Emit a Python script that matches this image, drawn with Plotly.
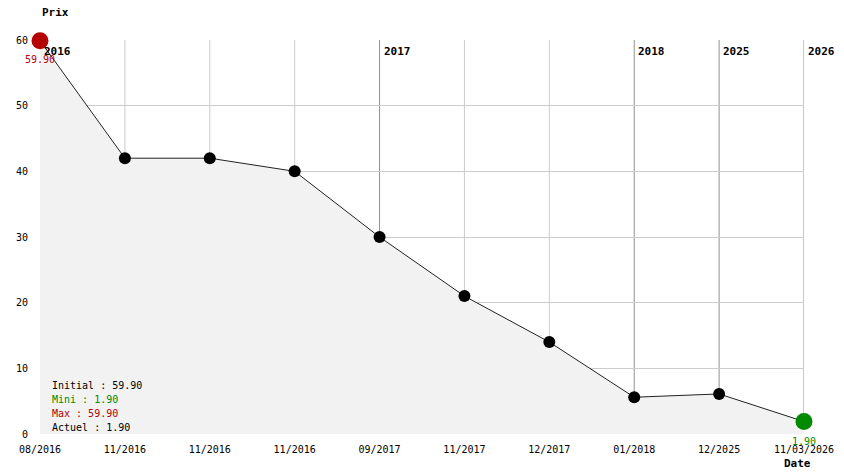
import plotly.graph_objects as go

# price history
dates = ["08/2016", "11/2016", "11/2016", "11/2016", "09/2017",
         "11/2017", "12/2017", "01/2018", "12/2025", "11/03/2026"]
prices = [59.9, 42, 42, 40, 30, 21, 14, 5.6, 6.1, 1.9]
years = ["2016", "2017", "2018", "2025", "2026"]
year_idx = [0, 4, 7, 8, 9]
y_ticks = [0, 10, 20, 30, 40, 50, 60]

FONT = "DejaVu Sans Mono"
RED = "#b40000"
GREEN = "#008a00"

xs = list(range(len(prices)))

fig = go.Figure()

fig.add_trace(go.Scatter(
    x=xs, y=prices, mode="lines+markers", fill="tozeroy",
    fillcolor="#f2f2f2", line=dict(color="#222222", width=1),
    marker=dict(color="black", size=12), hoverinfo="skip", cliponaxis=False))

# first / last points highlighted
fig.add_trace(go.Scatter(
    x=[xs[0]], y=[prices[0]], mode="markers", cliponaxis=False,
    marker=dict(color=RED, size=17), hoverinfo="skip"))
fig.add_trace(go.Scatter(
    x=[xs[-1]], y=[prices[-1]], mode="markers", cliponaxis=False,
    marker=dict(color=GREEN, size=17), hoverinfo="skip"))

# vertical lines: light grid, darker where the year changes
for i in xs[1:]:
    col = "#909090" if i in year_idx else "#cccccc"
    fig.add_shape(type="line", x0=i, x1=i, y0=0, y1=60, layer="below",
                  line=dict(color=col, width=1))

for i, yr in zip(year_idx, years):
    fig.add_annotation(x=i, y=60, text="<b>%s</b>" % yr, showarrow=False,
                       xanchor="left", yanchor="top", xshift=2, yshift=-3,
                       font=dict(family=FONT, size=11, color="black"))

fig.add_annotation(x=xs[0], y=prices[0], text="%.2f" % prices[0], showarrow=False,
                   yanchor="top", yshift=-11, font=dict(family=FONT, size=10, color=RED))
fig.add_annotation(x=xs[-1], y=prices[-1], text="%.2f" % prices[-1], showarrow=False,
                   yanchor="top", yshift=-12, font=dict(family=FONT, size=10, color=GREEN))

# summary box
summary = [("Initial : %.2f" % prices[0], "black"),
           ("Mini : %.2f" % min(prices), GREEN),
           ("Max : %.2f" % max(prices), RED),
           ("Actuel : %.2f" % prices[-1], "black")]
for k, (txt, col) in enumerate(summary):
    fig.add_annotation(xref="paper", yref="paper", x=0.0128, y=0.124 - k * 0.0355,
                       text=txt, showarrow=False, xanchor="left", yanchor="middle",
                       font=dict(family=FONT, size=10, color=col))

fig.add_annotation(xref="paper", yref="paper", x=0.991, y=-0.074, text="<b>Date</b>",
                   showarrow=False, xanchor="center", yanchor="middle",
                   font=dict(family=FONT, size=11, color="black"))
fig.add_annotation(xref="paper", yref="paper", x=0.0, y=1.071, text="<b>Prix</b>",
                   showarrow=False, xanchor="left", yanchor="middle",
                   font=dict(family=FONT, size=11, color="black"))

fig.update_xaxes(range=[0, 9], tickvals=xs, ticktext=dates, showgrid=False,
                 zeroline=False, showline=False,
                 ticks="", automargin=False, ticklabelstandoff=8,
                 tickfont=dict(family=FONT, size=10, color="black"))
fig.update_yaxes(range=[0, 60], tickvals=y_ticks, showgrid=True,
                 gridcolor="#cccccc", gridwidth=1, zeroline=False, showline=False,
                 ticks="", automargin=False, ticklabelstandoff=11,
                 tickfont=dict(family=FONT, size=10, color="black"))

# the page body adds an 8px offset, so the figure is shifted accordingly
fig.update_layout(width=836, height=466, showlegend=False,
                  margin=dict(l=32, r=40, t=32, b=40),
                  plot_bgcolor="white", paper_bgcolor="white",
                  font=dict(family=FONT, size=10))

fig.write_html("out.html")
